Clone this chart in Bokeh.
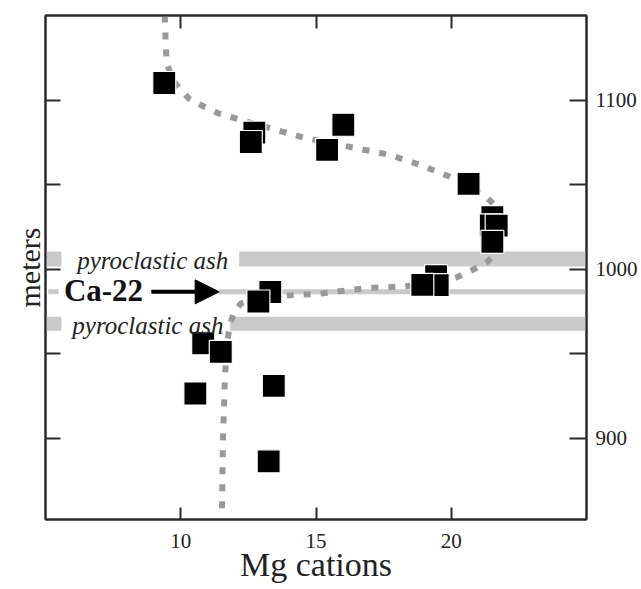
from bokeh.plotting import figure
from bokeh.models import LinearAxis, FixedTicker, Range1d, Label, Arrow, NormalHead
from bokeh.embed import file_html
from bokeh.resources import INLINE

# Mg cation content of the samples against stratigraphic height (m)
mg = [9.39, 12.72, 12.59, 15.41, 16.01, 20.64,
      21.52, 21.46, 21.68, 21.52,
      19.44, 19.50, 18.93,
      13.31, 12.87,
      10.83, 11.48, 10.54, 13.44, 13.25]
height_m = [1110.1, 1080.8, 1075.2, 1070.5, 1085.4, 1050.5,
            1030.8, 1025.9, 1025.8, 1016.1,
            995.9, 990.6, 990.7,
            986.5, 980.9,
            956.2, 951.1, 926.5, 931.0, 886.4]

# hand-drawn trend through the profile
trend_mg = [9.41, 9.44, 9.48, 9.70, 10.30, 10.85, 11.41, 12.04, 12.70, 13.33,
            14.52, 16.37, 17.67, 18.81, 19.93, 20.59, 21.19, 21.63, 21.89, 21.93,
            21.74, 21.30, 20.74, 20.19, 19.63, 18.15, 16.93, 15.19, 13.89, 12.78,
            12.22, 11.96, 11.81, 11.70, 11.63, 11.56, 11.52]
trend_m = [1150.0, 1135.2, 1122.2, 1111.6, 1100.9, 1096.2, 1092.0, 1089.1, 1086.1, 1083.2,
           1077.9, 1071.9, 1067.8, 1061.9, 1054.8, 1049.5, 1044.1, 1037.6, 1028.8, 1019.9,
           1011.0, 1003.9, 999.2, 995.1, 992.1, 989.7, 988.9, 985.6, 984.4, 982.6,
           979.7, 974.4, 966.7, 954.8, 934.2, 898.7, 852.5]

# marker horizons
ash_levels = [1006.0, 967.7]
ca22_level = 986.6

x_ticks = [10, 15, 20]
y_ticks = [900, 950, 1000, 1050, 1100]
y_tick_labels = {950: "", 1050: ""}

SERIF = "Liberation Serif"
AXIS_COLOR = "#2a2a2a"

p = figure(width=641, height=589,
           x_range=Range1d(5, 25), y_range=Range1d(852, 1150),
           x_axis_location=None, y_axis_location=None,
           output_backend="svg", toolbar_location=None,
           min_border_left=45, min_border_right=55,
           min_border_top=15, min_border_bottom=70)
p.grid.grid_line_color = None
p.outline_line_color = AXIS_COLOR
p.outline_line_width = 2
p.background_fill_color = "white"
p.border_fill_color = "white"


def style_axis(ax, tick_in):
    ax.axis_line_color = AXIS_COLOR
    ax.axis_line_width = 2
    ax.major_tick_line_color = AXIS_COLOR
    ax.major_tick_line_width = 2
    ax.major_tick_in = tick_in
    ax.major_tick_out = 0
    ax.minor_tick_line_color = None
    ax.major_label_text_font = SERIF
    ax.major_label_text_font_size = "21px"
    ax.major_label_text_color = "#222222"
    ax.axis_label_text_font = SERIF
    ax.axis_label_text_font_style = "normal"
    ax.axis_label_text_color = "#222222"


bottom = LinearAxis(ticker=FixedTicker(ticks=x_ticks), axis_label="Mg cations")
style_axis(bottom, 12)
bottom.major_label_standoff = 14
bottom.axis_label_standoff = -5
bottom.axis_label_text_font_size = "34px"
p.add_layout(bottom, "below")

# unlabelled tick axes on the top and left edges
top = LinearAxis(ticker=FixedTicker(ticks=x_ticks),
                 major_label_overrides={t: "" for t in x_ticks})
style_axis(top, 13)
top.major_label_standoff = 0
p.add_layout(top, "above")

left = LinearAxis(ticker=FixedTicker(ticks=y_ticks), axis_label="meters",
                  major_label_overrides={t: "" for t in y_ticks})
style_axis(left, 15)
left.major_label_standoff = 0
left.axis_label_standoff = 0
left.axis_label_text_font_size = "30px"
p.add_layout(left, "left")

right = LinearAxis(ticker=FixedTicker(ticks=y_ticks),
                   major_label_overrides=y_tick_labels)
style_axis(right, 17)
right.major_label_standoff = 9
p.add_layout(right, "right")

# ash layers and the Ca-22 horizon, broken where their captions sit
BAND = "#c9c9c9"
p.segment(x0=[5.0, 12.16], y0=[ash_levels[0]] * 2, x1=[5.59, 25.0], y1=[ash_levels[0]] * 2,
          line_color=BAND, line_width=15, line_cap="butt")
p.segment(x0=[5.0, 11.83], y0=[ash_levels[1]] * 2, x1=[5.59, 25.0], y1=[ash_levels[1]] * 2,
          line_color=BAND, line_width=14, line_cap="butt")
p.segment(x0=[5.1, 11.41], y0=[ca22_level] * 2, x1=[5.48, 25.0], y1=[ca22_level] * 2,
          line_color=BAND, line_width=5, line_cap="butt")

# trend line
p.line(trend_mg, trend_m, line_color="#999999", line_width=6, line_dash="7 10")

# samples
p.scatter(mg, height_m, marker="square", size=23,
          fill_color="black", line_color="white", line_width=1.2)

# captions
for lvl, x0 in zip(ash_levels, [6.17, 5.99]):
    p.add_layout(Label(x=x0, y=lvl - 1.0, text="pyroclastic ash",
                       text_font=SERIF, text_font_style="italic",
                       text_font_size="25px", text_color="#222222",
                       text_baseline="alphabetic", text_align="left"))

p.add_layout(Label(x=5.68, y=ca22_level + 0.9, text="Ca-22",
                   text_font=SERIF, text_font_style="bold",
                   text_font_size="31px", text_color="#111111",
                   text_baseline="alphabetic", text_align="left"))

p.add_layout(Arrow(x_start=8.91, y_start=ca22_level, x_end=11.42, y_end=ca22_level,
                   line_width=4, line_color="black",
                   end=NormalHead(size=24, fill_color="black", line_color="black")))

open("out.html", "w").write(file_html(p, INLINE))
